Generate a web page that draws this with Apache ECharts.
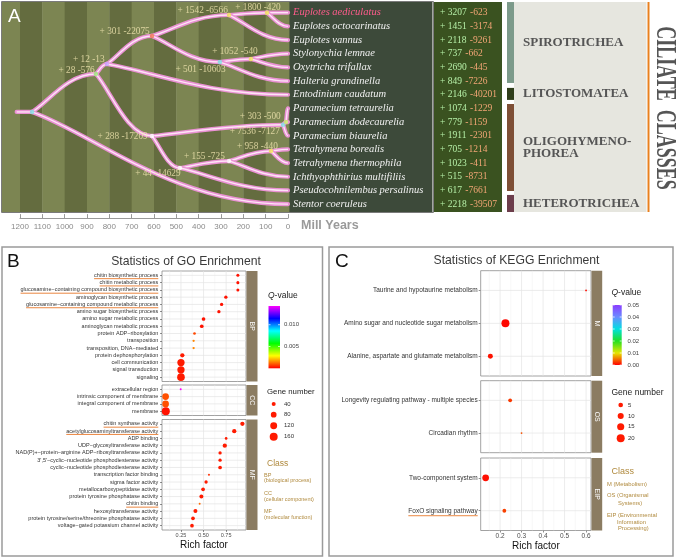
<!DOCTYPE html>
<html><head><meta charset="utf-8">
<script src="https://cdn.jsdelivr.net/npm/echarts@6/dist/echarts.min.js"></script>
<style>html,body{margin:0;padding:0;background:#fff}#c{width:676px;height:560px}</style>
</head><body><div id="c"></div>
<script>
// ================= DATA =================
// Panel A: phylogeny
const leaves = ['Euplotes aediculatus','Euplotes octocarinatus','Euplotes vannus','Stylonychia lemnae','Oxytricha trifallax','Halteria grandinella','Entodinium caudatum','Paramecium tetraurelia','Paramecium dodecaurelia','Paramecium biaurelia','Tetrahymena borealis','Tetrahymena thermophila','Ichthyophthirius multifiliis','Pseudocohnilembus persalinus','Stentor coeruleus'];
const leafGain = [3207,1451,2118,737,2690,849,2146,1074,779,1911,705,1023,515,617,2218];
const leafLoss = [623,3174,9261,662,445,7226,40201,1229,1159,2301,1214,411,8731,7661,39507];
const nodeIds  = ['root','n28','n12','n301','n1542','n1800','n501','n1052','n288','n7536','n303','n44','n155','n958'];
const nodeAge  = [1146,860,811,609,264,94,305,166,609,22,9,484,264,76];
const nodeRow  = [7.26,4.48,3.75,1.70,0.17,0.0,3.61,3.39,9.02,8.2,8.0,11.36,10.85,10.12];
const nodeGain = [null,28,12,301,1542,1800,501,1052,288,7536,303,44,155,958];
const nodeLoss = [null,576,13,22075,6566,420,10603,540,17209,7127,500,14629,725,440];
const edgeParent = ['root','root','n28','n28','n12','n12','n301','n301','n1542','n1542','n1800','n1800','n501','n501','n1052','n1052','n288','n288','n7536','n7536','n303','n303','n44','n44','n155','n155','n958','n958'];
const edgeChild  = ['n28',14,'n12','n288','n301',6,'n1542','n501','n1800',2,0,1,'n1052',5,3,4,'n7536','n44','n303',9,7,8,'n155',13,'n958',12,10,11];
const rootStemAge = 1215;
const classNames = ['SPIROTRICHEA','LITOSTOMATEA','OLIGOHYMENO-\nPHOREA','HETEROTRICHEA'];
const classSpan  = [[-0.78,5.14],[5.5,6.38],[6.68,13.04],[13.33,14.58]];

// Panel B: GO enrichment
const goBP = ['chitin biosynthetic process','chitin metabolic process','glucosamine\u2212containing compound biosynthetic process','aminoglycan biosynthetic process','glucosamine\u2212containing compound metabolic process','amino sugar biosynthetic process','amino sugar metabolic process','aminoglycan metabolic process','protein ADP\u2212ribosylation','transposition','transposition, DNA\u2212mediated','protein dephosphorylation','cell communication','signal transduction','signaling'];
const goBPRich  = [0.88,0.88,0.88,0.747,0.70,0.67,0.50,0.48,0.40,0.39,0.39,0.265,0.25,0.25,0.25];
const goBPGenes = [24,24,24,28,28,28,34,34,20,16,16,46,133,133,145];
const goBPQ     = [0.0002,0.0002,0.0002,0.0002,0.0002,0.0002,0.0002,0.0002,0.0008,0.0015,0.0015,0.0003,0.0003,0.0003,0.0003];
const goCC = ['extracellular region','intrinsic component of membrane','integral component of membrane','membrane'];
const goCCRich  = [0.247,0.08,0.08,0.082];
const goCCGenes = [13,112,112,160];
const goCCQ     = [0.0143,0.0009,0.0009,0.0002];
const goMF = ['chitin synthase activity','acetylglucosaminyltransferase activity','ADP binding','UDP\u2212glycosyltransferase activity','NAD(P)+\u2212protein\u2212arginine ADP\u2212ribosyltransferase activity',"3',5'\u2212cyclic\u2212nucleotide phosphodiesterase activity",'cyclic\u2212nucleotide phosphodiesterase activity','transcription factor binding','sigma factor activity','metallocarboxypeptidase activity','protein tyrosine phosphatase activity','chitin binding','hexosyltransferase activity','protein tyrosine/serine/threonine phosphatase activity','voltage\u2212gated potassium channel activity'];
const goMFRich  = [0.93,0.84,0.75,0.735,0.683,0.683,0.683,0.56,0.528,0.495,0.476,0.457,0.41,0.383,0.372];
const goMFGenes = [46,46,20,46,28,28,34,13,28,34,40,13,40,34,34];
const goMFQ     = [0.0003,0.0003,0.0003,0.0003,0.0003,0.0003,0.0003,0.0005,0.0003,0.0003,0.0003,0.0012,0.0003,0.0003,0.0003];
const goUnderBP = [0,1,2,4];
const goUnderMF = [0,1,11];
const goXTicks = [0.25,0.5,0.75];
const goQTicks = [0.005,0.010];
const goSizeLegend = [40,80,120,160];

// Panel C: KEGG enrichment
const kgM = ['Taurine and hypotaurine metabolism','Amino sugar and nucleotide sugar metabolism','Alanine, aspartate and glutamate metabolism'];
const kgMRich = [0.6,0.225,0.155];
const kgMGenes = [1,20,6];
const kgMQ = [0.0005,0.0003,0.0008];
const kgOS = ['Longevity regulating pathway - multiple species','Circadian rhythm'];
const kgOSRich = [0.247,0.3];
const kgOSGenes = [3,1];
const kgOSQ = [0.0025,0.0035];
const kgEIP = ['Two-component system','FoxO signaling pathway'];
const kgEIPRich = [0.133,0.22];
const kgEIPGenes = [13,3];
const kgEIPQ = [0.0006,0.0028];
const kgUnderEIP = [1];
const kgXTicks = [0.2,0.3,0.4,0.5,0.6];
const kgQTicks = [0.00,0.01,0.02,0.03,0.04,0.05];
const kgSizeLegend = [5,10,15,20];

// ================= STYLE / LAYOUT =================
const SERIF = '"Liberation Serif","DejaVu Serif",serif';
const SANS = '"Liberation Sans",Arial,sans-serif';
const nodeColors = ['#7fe6e6','#9cf07a','#c9a6ff','#f27a55','#f2ea5a','#f2ea5a','#7fe6e6','#f2ea5a','#ffffff','#7fe6e6','#c8f06a','#ffffff','#ffffff','#f2ea5a'];
const nodeLabelOffset = [[0,0],[1,-3],[0,-4],[0,-4],[1,-4],[16,-5],[8,8],[9,-7],[-2,1],[-1,7],[-3,-6],[3,6],[-2,-4],[9,-5]];
const classColors = ['#7c9a8a','#2f3e1a','#7e4f36','#6c3d4b'];

const chart = echarts.init(document.getElementById('c'), null, {renderer:'canvas', width:676, height:560});
const grids=[], xAxes=[], yAxes=[], series=[], visualMaps=[], graphics=[];
const mctx = document.createElement('canvas').getContext('2d');
function textWidth(t, size){ mctx.font = size+'px '+SANS; return mctx.measureText(t).width; }

// ---------- Panel A ----------
const TREE = {left:20, top:12.7, width:268, height:191.4};
const ROW_TOP = -0.78, ROW_BOT = 14.58;
grids.push({left:TREE.left, top:TREE.top, width:TREE.width, height:TREE.height, show:false});
xAxes.push({gridIndex:0, type:'value', min:0, max:1200, interval:100, inverse:true, position:'bottom', offset:14, z:6,
  axisLine:{show:true, onZero:false, lineStyle:{color:'#9a9a9a', width:1.2}},
  axisTick:{show:true, inside:true, length:4, lineStyle:{color:'#9a9a9a'}},
  axisLabel:{color:'#8a8a8a', fontSize:8, fontFamily:SANS, margin:5, formatter:v=>String(v)},
  splitLine:{show:false}});
const speciesRich = {
  w:{color:'#f0f0f0', fontStyle:'italic', fontFamily:SERIF, fontSize:10.5},
  p:{color:'#ff5c8c', fontStyle:'italic', fontFamily:SERIF, fontSize:10.5}
};
yAxes.push({gridIndex:0, type:'value', min:0, max:14, interval:1, inverse:true, position:'right', z:6,
  axisLine:{show:false, onZero:false}, axisTick:{show:false}, splitLine:{show:false},
  axisLabel:{margin:5, showMinLabel:true, showMaxLabel:true, rich:speciesRich,
    formatter:v=>{const i=Math.round(v); if(i<0||i>14) return ''; return (i===0?'{p|':'{w|')+leaves[i]+'}';}}});
yAxes.push({gridIndex:0, type:'value', min:0, max:14, interval:1, inverse:true, position:'right', offset:147, z:6,
  axisLine:{show:false, onZero:false}, axisTick:{show:false}, splitLine:{show:false},
  axisLabel:{margin:5, showMinLabel:true, showMaxLabel:true,
    rich:{g:{color:'#b6f0a8', fontFamily:SERIF, fontSize:9.5}, l:{color:'#f3a676', fontFamily:SERIF, fontSize:9.5}},
    formatter:v=>{const i=Math.round(v); if(i<0||i>14) return ''; return '{g|+ '+leafGain[i]+'} {l|-'+leafLoss[i]+'}';}}});

// background stripes per 100 Myr
const stripeEdges = [1281,1200,1100,1000,900,800,700,600,500,400,300,200,100,-4.5];
const stripeData = stripeEdges.slice(0,-1).map((a,i)=>[a, stripeEdges[i+1], i%2]);
series.push({type:'custom', xAxisIndex:0, yAxisIndex:0, z:1, silent:true, clip:false, animation:false,
  data:stripeData,
  renderItem:(params, api)=>{
    const p0 = api.coord([api.value(0), ROW_TOP]), p1 = api.coord([api.value(1), ROW_BOT]);
    return {type:'rect', shape:{x:p0[0], y:p0[1], width:p1[0]-p0[0]+0.4, height:p1[1]-p0[1]},
      style:{fill: api.value(2)===0 ? '#7c8552' : '#646c3f'}};
  }});
// class bars and class names
series.push({type:'custom', xAxisIndex:0, yAxisIndex:0, z:2, silent:true, clip:false, animation:false,
  data:classSpan.map((s,i)=>[0, s[0], s[1], i]),
  renderItem:(params, api)=>{
    const y0 = api.coord([0, api.value(1)])[1], y1 = api.coord([0, api.value(2)])[1];
    const i = api.value(3);
    return {type:'group', children:[
      {type:'rect', shape:{x:507, y:y0, width:7, height:y1-y0}, style:{fill:classColors[i]}},
      {type:'text', x:523, y:(y0+y1)/2, style:{text:classNames[i], fill:'#555', font:'bold 13px '+SERIF, lineHeight:12, align:'left', verticalAlign:'middle', textAlign:'left', textVerticalAlign:'middle'}}
    ]};
  }});
// branches
function ptOf(c){ if (typeof c === 'number') return [0, c]; const k = nodeIds.indexOf(c); return [nodeAge[k], nodeRow[k]]; }
const edgeData = edgeParent.map((p,i)=>{ const a=ptOf(p), b=ptOf(edgeChild[i]); return [a[0],a[1],b[0],b[1]]; });
edgeData.unshift([rootStemAge, nodeRow[0], nodeAge[0], nodeRow[0]]);
series.push({type:'custom', xAxisIndex:0, yAxisIndex:0, z:3, silent:true, clip:false, animation:false,
  data:edgeData,
  renderItem:(params, api)=>{
    const p = api.coord([api.value(0), api.value(1)]), c = api.coord([api.value(2), api.value(3)]);
    const dx = c[0]-p[0], dy = c[1]-p[1];
    const shape = {x1:p[0], y1:p[1], x2:c[0], y2:c[1], cpx1:p[0]+dx*0.25, cpy1:p[1]+dy*0.25, cpx2:p[0]+dx*0.55, cpy2:c[1]};
    return {type:'group', children:[
      {type:'bezierCurve', shape, style:{stroke:'#ea92d4', lineWidth:4.2, fill:null, lineCap:'round'}},
      {type:'bezierCurve', shape, style:{stroke:'#fde4f5', lineWidth:1.4, fill:null}}
    ]};
  }});
// nodes with gain/loss labels
series.push({type:'scatter', xAxisIndex:0, yAxisIndex:0, z:4, silent:true, clip:false, animation:false,
  symbolSize:4.5,
  data:nodeIds.map((id,k)=>({value:[nodeAge[k], nodeRow[k]], itemStyle:{color:nodeColors[k]},
    label:{show:nodeGain[k]!==null, offset:nodeLabelOffset[k]}})),
  label:{position:'left', distance:0, color:'#f3e7b2', fontFamily:SERIF, fontSize:9.3,
    formatter:p=> '+ '+nodeGain[p.dataIndex]+' -'+nodeLoss[p.dataIndex]}});

// Panel A fixed backgrounds
graphics.push({type:'rect', z:0, shape:{x:289, y:2, width:143.5, height:210}, style:{fill:'#3d4a3a'}});
graphics.push({type:'rect', z:0, shape:{x:432.5, y:2, width:1.5, height:210}, style:{fill:'#a9aea2'}});
graphics.push({type:'rect', z:0, shape:{x:434, y:2, width:68, height:210}, style:{fill:'#3a5220'}});
graphics.push({type:'rect', z:0, shape:{x:514, y:2, width:132.5, height:210}, style:{fill:'#e6e6df'}});
graphics.push({type:'rect', z:0, shape:{x:647.5, y:2, width:2, height:210}, style:{fill:'#e8801f'}});
graphics.push({type:'rect', z:7, shape:{x:1.5, y:1.5, width:432, height:211}, style:{fill:null, stroke:'#7a7a7a', lineWidth:1}});
graphics.push({type:'text', z:8, x:665, y:108, rotation:-Math.PI/2, scaleX:0.6, scaleY:1,
  style:{text:'CILIATE  CLASSES', fill:'#555', font:'bold 30px '+SERIF, align:'center', verticalAlign:'middle', textAlign:'center', textVerticalAlign:'middle'}});
graphics.push({type:'text', z:8, x:8, y:7, style:{text:'A', fill:'#fff', font:'19px '+SANS}});
graphics.push({type:'text', z:8, x:301, y:225.5, style:{text:'Mill Years', fill:'#9a9a9a', font:'bold 12.5px '+SANS, verticalAlign:'middle', textVerticalAlign:'middle'}});

// ---------- Panels B & C (facets) ----------
const GO = {left:162, width:84, xmin:0.04, xmax:0.97, xticks:goXTicks, major:[0.25,0.5,0.75], minor:[0.125,0.375,0.625,0.875],
  fmt:v=>v.toFixed(2), tickFont:5.5, labelFont:5.5, labelMargin:3.7, ulOffset:3.3, stripW:11,
  size:n=>0.64+7.46*Math.sqrt(Math.max(0,(n-8)/157)), scatterIdx:[],
  facets:[
    {cats:goBP, rich:goBPRich, genes:goBPGenes, q:goBPQ, top:271, height:110.5, strip:'BP', under:goUnderBP},
    {cats:goCC, rich:goCCRich, genes:goCCGenes, q:goCCQ, top:385, height:30.5, strip:'CC', under:[]},
    {cats:goMF, rich:goMFRich, genes:goMFGenes, q:goMFQ, top:419.5, height:110.5, strip:'MF', under:goUnderMF, bottom:true}
  ]};
const KG = {left:480.7, width:110.3, xmin:0.11, xmax:0.623, xticks:kgXTicks, major:[0.2,0.3,0.4,0.5,0.6], minor:[0.15,0.25,0.35,0.45,0.55],
  fmt:v=>v.toFixed(1), tickFont:6.5, labelFont:6.5, labelMargin:3, ulOffset:5, stripW:10.7,
  size:n=>1.8+6.2*Math.sqrt(Math.max(0,(n-1)/19)), scatterIdx:[],
  facets:[
    {cats:kgM, rich:kgMRich, genes:kgMGenes, q:kgMQ, top:270.7, height:105.3, strip:'M', under:[]},
    {cats:kgOS, rich:kgOSRich, genes:kgOSGenes, q:kgOSQ, top:380.7, height:72, strip:'OS', under:[]},
    {cats:kgEIP, rich:kgEIPRich, genes:kgEIPGenes, q:kgEIPQ, top:458, height:72.5, strip:'EIP', under:kgUnderEIP, bottom:true}
  ]};

function addFacet(p, f){
  const gi = grids.length, xi = xAxes.length, yi = yAxes.length;
  const n = f.cats.length, rows = f.cats.map((c,i)=>i);
  grids.push({left:p.left, top:f.top, width:p.width, height:f.height, show:true, borderColor:'#8a8a8a', borderWidth:0.8, backgroundColor:'#fff'});
  xAxes.push({gridIndex:gi, type:'value', min:p.xmin, max:p.xmax, splitLine:{show:false}, axisLine:{show:false, onZero:false},
    axisTick:{show:!!f.bottom, customValues:p.xticks, length:2, lineStyle:{color:'#444', width:0.6}},
    axisLabel:{show:!!f.bottom, customValues:p.xticks, formatter:v=>p.fmt(v), fontSize:p.tickFont, color:'#4d4d4d', fontFamily:SANS, margin:2.5},
    name:f.bottom?'Rich factor':'', nameLocation:'middle', nameGap:10, nameTextStyle:{fontSize:10, color:'#111', fontFamily:SANS, verticalAlign:'top'}});
  yAxes.push({gridIndex:gi, type:'value', min:-0.6, max:n-0.4, inverse:true, splitLine:{show:false}, axisLine:{show:false, onZero:false},
    axisTick:{show:true, customValues:rows, length:2, lineStyle:{color:'#444', width:0.6}},
    axisLabel:{customValues:rows, formatter:v=>f.cats[Math.round(v)], fontSize:p.labelFont, color:'#333', fontFamily:SANS, margin:p.labelMargin}});
  // grid lines
  series.push({type:'custom', xAxisIndex:xi, yAxisIndex:yi, z:1, silent:true, clip:false, animation:false,
    data:[...p.major.map(v=>[0,v]), ...p.minor.map(v=>[1,v]), ...rows.map(i=>[2,i])],
    renderItem:(params, api)=>{
      const cs = params.coordSys, kind = api.value(0), v = api.value(1);
      if (kind < 2){ const x = api.coord([v, 0])[0];
        return {type:'line', shape:{x1:x, y1:cs.y, x2:x, y2:cs.y+cs.height}, style:{stroke:kind===0?'#e4e4e4':'#f0f0f0', lineWidth:kind===0?0.7:0.45}}; }
      const y = api.coord([p.xmin, v])[1];
      return {type:'line', shape:{x1:cs.x, y1:y, x2:cs.x+cs.width, y2:y}, style:{stroke:'#e4e4e4', lineWidth:0.7}};
    }});
  // underlines
  if (f.under.length) series.push({type:'custom', xAxisIndex:xi, yAxisIndex:yi, z:5, silent:true, clip:false, animation:false,
    data:f.under.map(i=>[i, textWidth(f.cats[i], p.labelFont)]),
    renderItem:(params, api)=>{
      const cs = params.coordSys; const y = api.coord([p.xmin, api.value(0)])[1] + p.ulOffset; const xr = cs.x - p.labelMargin;
      return {type:'line', shape:{x1:xr-api.value(1), y1:y, x2:xr, y2:y}, style:{stroke:'#e8782a', lineWidth:0.9}};
    }});
  // points
  p.scatterIdx.push(series.length);
  series.push({type:'scatter', xAxisIndex:xi, yAxisIndex:yi, z:4, silent:true, animation:false,
    data:f.cats.map((c,i)=>[f.rich[i], i, f.q[i], f.genes[i]]),
    symbolSize:d=>p.size(d[3]), itemStyle:{opacity:1}});
  // strip
  const sx = p.left + p.width + 0.5;
  graphics.push({type:'rect', z:5, shape:{x:sx, y:f.top, width:p.stripW, height:f.height}, style:{fill:'#8b7c62'}});
  graphics.push({type:'text', z:6, x:sx+p.stripW/2, y:f.top+f.height/2, rotation:-Math.PI/2,
    style:{text:f.strip, fill:'#fafafa', font:'7px '+SANS, align:'center', verticalAlign:'middle', textAlign:'center', textVerticalAlign:'middle'}});
}
GO.facets.forEach(f=>addFacet(GO, f));
KG.facets.forEach(f=>addFacet(KG, f));

const goColors = ['#ff0000','#ffff00','#00ff00','#00ffff','#0000ff','#ff00ff'];
const kgColors = ['#ff0000','#e6e600','#22e022','#00e0e0','#6a8cff','#8a3cff'];
const goQMin = 0, goQMax = 0.0143, kgQMin = 0, kgQMax = 0.05;
visualMaps.push({type:'continuous', show:false, seriesIndex:GO.scatterIdx, dimension:2, min:goQMin, max:goQMax, inRange:{color:goColors}});
visualMaps.push({type:'continuous', show:false, seriesIndex:KG.scatterIdx, dimension:2, min:kgQMin, max:kgQMax, inRange:{color:kgColors}});

// panel boxes, letters, titles
graphics.push({type:'rect', z:0, shape:{x:2, y:247, width:320.5, height:309}, style:{fill:null, stroke:'#9a9a9a', lineWidth:1.5}});
graphics.push({type:'rect', z:0, shape:{x:329, y:247, width:344, height:309}, style:{fill:null, stroke:'#9a9a9a', lineWidth:1.5}});
graphics.push({type:'text', z:8, x:7, y:252, style:{text:'B', fill:'#111', font:'19px '+SANS}});
graphics.push({type:'text', z:8, x:335, y:252, style:{text:'C', fill:'#111', font:'19px '+SANS}});
function ctext(x, y, text, font, fill, align){
  graphics.push({type:'text', z:8, x, y, style:{text, font, fill, align:align||'left', verticalAlign:'middle', textAlign:align||'left', textVerticalAlign:'middle'}});
}
ctext(186, 262, 'Statistics of GO Enrichment', '12.2px '+SANS, '#3a3a3a', 'center');
ctext(516.5, 261, 'Statistics of KEGG Enrichment', '12.2px '+SANS, '#3a3a3a', 'center');

// legends
function qLegend(x, titleY, barX, barY, barW, barH, colors, qmin, qmax, ticks, fmt, labelX, fs){
  graphics.push({type:'text', z:8, x, y:titleY, style:{text:'{i|Q}-value', font:fs+'px '+SANS, fill:'#222', verticalAlign:'middle', textVerticalAlign:'middle',
    rich:{i:{fontStyle:'italic', fontSize:fs, fontFamily:SANS, fill:'#222', color:'#222'}}}});
  graphics.push({type:'rect', z:8, shape:{x:barX, y:barY, width:barW, height:barH},
    style:{fill:new echarts.graphic.LinearGradient(0,1,0,0, colors.map((c,i)=>({offset:i/(colors.length-1), color:c})))}});
  ticks.forEach(t=>{
    const y = barY + barH - (t-qmin)/(qmax-qmin)*barH;
    graphics.push({type:'line', z:9, shape:{x1:barX, y1:y, x2:barX+2, y2:y}, style:{stroke:'#fff', lineWidth:0.7}});
    graphics.push({type:'line', z:9, shape:{x1:barX+barW-2, y1:y, x2:barX+barW, y2:y}, style:{stroke:'#fff', lineWidth:0.7}});
    ctext(labelX, y, fmt(t), '6px '+SANS, '#444');
  });
}
qLegend(268, 296, 268.5, 306, 11.5, 62.3, goColors, goQMin, goQMax, goQTicks, v=>v.toFixed(3), 284, 8.5);
qLegend(611.5, 292.5, 612.7, 305, 9, 60, kgColors, kgQMin, kgQMax, kgQTicks, v=>v.toFixed(2), 627.5, 8.5);

function sizeLegend(x, titleY, cx, ys, vals, sizeFn, labelX, fs){
  ctext(x, titleY, 'Gene number', fs+'px '+SANS, '#222');
  vals.forEach((v,i)=>{
    graphics.push({type:'circle', z:8, shape:{cx, cy:ys[i], r:sizeFn(v)/2}, style:{fill:'#ff1a00'}});
    ctext(labelX, ys[i], String(v), '6px '+SANS, '#333');
  });
}
sizeLegend(267, 392, 273.7, [404,414.7,425.7,436.7], goSizeLegend, GO.size, 284, 7.8);
sizeLegend(611.5, 392.7, 620.7, [405,416,426.7,438.3], kgSizeLegend, KG.size, 628, 8.5);

const CLS = '#b08a3e';
ctext(267, 464, 'Class', '8.5px '+SANS, CLS);
[['BP',475],['(biological process)',480.7],['CC',493],['(cellular component)',499],['MF',511],['(molecular function)',517]]
  .forEach(t=>ctext(264, t[1], t[0], '5.5px '+SANS, CLS));
ctext(611.5, 471.7, 'Class', '9px '+SANS, CLS);
[['M (Metabolism)',607,484.3],['OS (Organismal',607,495.7],['Systems)',618,503],['EIP (Environmental',607,515.7],['Information',617,522.7],['Processing)',618,528.5]]
  .forEach(t=>ctext(t[1], t[2], t[0], '5.8px '+SANS, CLS));

chart.setOption({
  animation:false,
  backgroundColor:'#fff',
  grid:grids, xAxis:xAxes, yAxis:yAxes, series, visualMap:visualMaps,
  graphic:{elements:graphics}
});
</script></body></html>
